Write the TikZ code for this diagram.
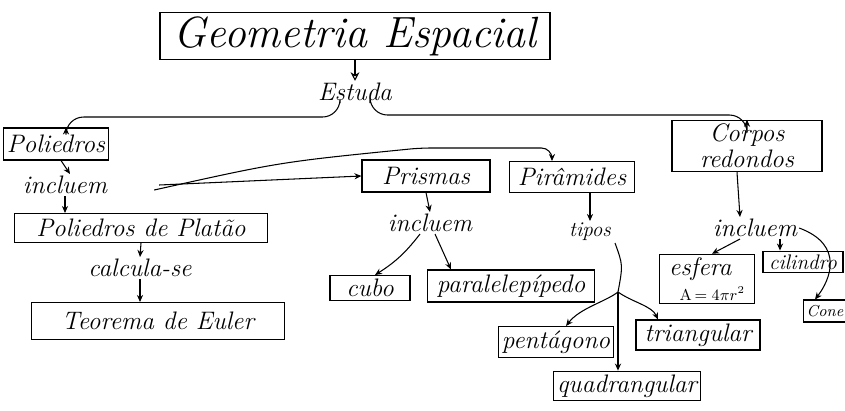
\documentclass[tikz,border=0pt]{standalone}
\usepackage{tikz}
\usetikzlibrary{arrows.meta}

\tikzset{
	box/.style={draw, rectangle, line width=0.6pt, inner sep=2pt, font=\itshape\Large},
	link/.style={inner sep=1pt, font=\itshape\Large},
	arr/.style={-{Stealth[length=4pt,width=3.5pt]}, line width=0.6pt}
}

\begin{document}
\begin{tikzpicture}[x=0.2mm, y=-0.2mm]
\useasboundingbox (0,0) rectangle (845,410);

% boxes
\node[box, font=\itshape\Huge, minimum width=390*0.2mm, minimum height=44*0.2mm] (titulo) at (355,36) {Geometria Espacial};
\node[box, minimum width=97*0.2mm, minimum height=32*0.2mm] (poli) at (56,144) {Poliedros};
\node[box, minimum width=253*0.2mm, minimum height=29*0.2mm] (platao) at (141,228) {Poliedros de Platão};
\node[box, minimum width=253*0.2mm, minimum height=37*0.2mm] (euler) at (158,321) {Teorema de Euler};
\node[box, minimum width=128*0.2mm, minimum height=32*0.2mm] (prismas) at (426,176) {Prismas};
\node[box, minimum width=125*0.2mm, minimum height=31*0.2mm] (piram) at (572,177) {Pirâmides};
\node[box, minimum width=80*0.2mm, minimum height=25*0.2mm] (cubo) at (370,288) {cubo};
\node[box, minimum width=167*0.2mm, minimum height=32*0.2mm] (paral) at (511,286) {paralelepípedo};
\node[box, minimum width=112*0.2mm, minimum height=31*0.2mm] (pent) at (556,342) {pentágono};
\node[box, minimum width=145*0.2mm, minimum height=28*0.2mm] (quad) at (627,386) {quadrangular};
\node[box, minimum width=124*0.2mm, minimum height=30*0.2mm] (tri) at (698,335) {triangular};
\node[box, align=center, minimum width=150*0.2mm, minimum height=48*0.2mm] (corpos) at (747,146) {Corpos\\[-3pt]redondos};
\node[box, align=left, minimum width=95*0.2mm, minimum height=42*0.2mm] (esfera) at (707,279) {esfera\\[-4pt]\hspace*{6pt}{\upshape\small A$\,=4\pi r^2$}};
\node[box, font=\itshape\large, minimum width=80*0.2mm, minimum height=20*0.2mm] (cilindro) at (803,262) {cilindro};
\node[box, font=\itshape\small, minimum width=38*0.2mm, minimum height=22*0.2mm] (cone) at (825,311) {Cone};

% linking words
\node[link] (estuda) at (355,92) {Estuda};
\node[link] (inc1) at (65,185) {incluem};
\node[link] (calc) at (140,268) {calcula-se};
\node[link] (inc2) at (430,223) {incluem};
\node[link, font=\itshape\large] (tipos) at (590,232) {tipos};
\node[link] (inc3) at (755,228) {incluem};
\coordinate (split) at (618,292);

% connectors
\draw[-{Stealth[open,length=5pt,width=5pt]}, line width=0.6pt] (titulo.south) -- (estuda.north);
\draw[arr, rounded corners=10] ([xshift=-3mm]estuda.south) -- ++(0,14) -| ([xshift=2mm]poli.north);
\draw[arr, rounded corners=10] ([xshift=3mm]estuda.south) -- ++(0,12) -| (corpos.north);

\draw[arr] ([xshift=1mm]poli.south) -- ([xshift=1mm]inc1.north);
\draw[arr] (inc1.south) -- (platao.north -| inc1.south);
\draw[arr] (platao.south) -- (calc.north);
\draw[arr] (calc.south) -- (euler.north -| calc.south);
\draw[arr] ([xshift=10mm]inc1.east) -- (prismas.west);
\draw[arr, rounded corners=6] ([xshift=9mm,yshift=-1mm]inc1.east) .. controls (280,162) .. (420,148) -| ([xshift=-4mm]piram.north);

\draw[arr] (prismas.south) -- (inc2.north);
\draw[arr] ([xshift=-2mm]inc2.south) to[bend left=10] ([xshift=1mm]cubo.north);
\draw[arr] ([xshift=1mm]inc2.south) -- ([xshift=-12mm]paral.north);

\draw[arr] (piram.south -| tipos.north) -- (tipos.north);
\draw[line width=0.6pt] ([xshift=5mm]tipos.south) .. controls (623,265) .. (split);
\draw[arr] (split) .. controls (605,302) and (580,308) .. ([xshift=2mm]pent.north);
\draw[arr] (split) -- (split |- quad.north);
\draw[arr] (split) .. controls (632,302) and (652,306) .. ([xshift=-8mm]tri.north);

\draw[arr] ([xshift=-2mm]corpos.south) -- ([xshift=-3mm]inc3.north);
\draw[arr] ([xshift=-3mm]inc3.south) -- ([xshift=1mm]esfera.north);
\draw[arr] ([xshift=5mm]inc3.south) -- ([xshift=5mm]inc3.south |- cilindro.north);
\draw[arr] (inc3.east) .. controls (845,245) and (830,280) .. ([xshift=-2mm]cone.north);

\end{tikzpicture}
\end{document}
